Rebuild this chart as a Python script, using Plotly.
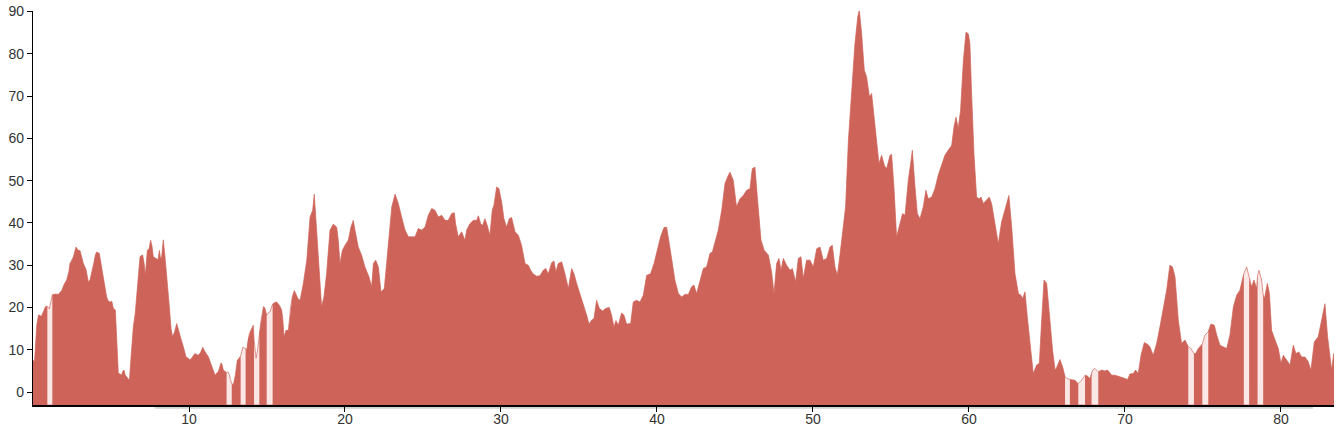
import plotly.graph_objects as go

# ---- data ----
dist_km = [
    0.0, 0.1, 0.24, 0.35, 0.42, 0.46, 0.55, 0.66, 0.8, 0.92, 1.05, 1.15, 1.24, 1.45, 1.62, 1.84, 2.0, 2.16,
    2.3, 2.37, 2.5, 2.59, 2.76, 2.9, 3.01, 3.12, 3.23, 3.4, 3.55, 3.66, 3.76, 3.9, 4.0, 4.08, 4.25, 4.4,
    4.51, 4.62, 4.72, 4.83, 4.94, 5.05, 5.15, 5.28, 5.38, 5.47, 5.58, 5.68, 5.75, 5.83, 5.92, 6.0, 6.1,
    6.18, 6.3, 6.43, 6.55, 6.69, 6.78, 6.86, 6.95, 7.03, 7.12, 7.2, 7.33, 7.45, 7.54, 7.63, 7.71, 7.82,
    7.93, 8.02, 8.1, 8.18, 8.25, 8.35, 8.45, 8.57, 8.66, 8.74, 8.85, 8.95, 9.08, 9.21, 9.32, 9.42, 9.53,
    9.64, 9.72, 9.81, 9.95, 10.06, 10.2, 10.38, 10.5, 10.6, 10.75, 10.88, 11.0, 11.13, 11.25, 11.39, 11.5,
    11.67, 11.78, 11.88, 12.05, 12.12, 12.2, 12.3, 12.41, 12.5, 12.58, 12.66, 12.74, 12.84, 12.97, 13.1,
    13.2, 13.31, 13.45, 13.55, 13.63, 13.7, 13.78, 13.87, 13.95, 14.02, 14.12, 14.17, 14.3, 14.4, 14.51,
    14.6, 14.77, 14.85, 14.98, 15.1, 15.2, 15.36, 15.5, 15.62, 15.8, 15.94, 16.02, 16.09, 16.22, 16.37,
    16.52, 16.62, 16.75, 16.88, 17.0, 17.12, 17.33, 17.55, 17.76, 17.93, 18.03, 18.18, 18.33, 18.5, 18.65,
    18.82, 19.04, 19.25, 19.47, 19.57, 19.68, 19.83, 20.0, 20.21, 20.38, 20.53, 20.64, 20.85, 21.06, 21.28,
    21.54, 21.71, 21.82, 21.97, 22.14, 22.31, 22.52, 22.78, 23.0, 23.21, 23.42, 23.63, 23.85, 24.06, 24.27,
    24.49, 24.7, 24.91, 25.13, 25.34, 25.56, 25.77, 25.98, 26.2, 26.41, 26.62, 26.84, 27.01, 27.09, 27.26,
    27.48, 27.69, 27.8, 28.01, 28.23, 28.44, 28.55, 28.7, 28.82, 28.97, 29.12, 29.29, 29.44, 29.55, 29.72,
    29.87, 30.04, 30.19, 30.36, 30.53, 30.68, 30.9, 31.11, 31.32, 31.54, 31.75, 31.9, 32.07, 32.29, 32.5,
    32.71, 32.88, 33.03, 33.25, 33.4, 33.52, 33.67, 33.89, 34.1, 34.32, 34.53, 34.68, 34.85, 35.06, 35.28,
    35.49, 35.64, 35.81, 35.96, 36.13, 36.3, 36.51, 36.73, 36.94, 37.09, 37.24, 37.37, 37.52, 37.73, 37.88,
    38.05, 38.31, 38.48, 38.69, 38.91, 39.12, 39.34, 39.59, 39.81, 40.02, 40.23, 40.45, 40.62, 40.79, 41.0,
    41.15, 41.37, 41.58, 41.79, 42.01, 42.22, 42.37, 42.54, 42.76, 42.97, 43.18, 43.4, 43.55, 43.72, 43.93,
    44.15, 44.36, 44.53, 44.68, 44.89, 45.1, 45.32, 45.53, 45.75, 45.96, 46.11, 46.28, 46.45, 46.67, 46.88,
    47.14, 47.35, 47.5, 47.67, 47.82, 47.95, 48.1, 48.31, 48.53, 48.68, 48.89, 49.06, 49.23, 49.38, 49.59,
    49.81, 50.02, 50.24, 50.45, 50.66, 50.88, 51.09, 51.24, 51.41, 51.56, 51.73, 51.94, 52.09, 52.27, 52.48,
    52.69, 52.87, 52.97, 53.12, 53.29, 53.44, 53.62, 53.76, 53.91, 54.08, 54.23, 54.4, 54.58, 54.72, 54.94,
    55.04, 55.19, 55.36, 55.53, 55.74, 55.9, 56.11, 56.26, 56.37, 56.54, 56.69, 56.86, 57.07, 57.24, 57.39,
    57.61, 57.82, 58.03, 58.25, 58.46, 58.67, 58.89, 59.04, 59.17, 59.31, 59.46, 59.64, 59.81, 59.96, 60.06,
    60.17, 60.32, 60.49, 60.66, 60.77, 60.92, 61.13, 61.3, 61.45, 61.67, 61.88, 62.09, 62.31, 62.42, 62.56,
    62.74, 62.95, 63.17, 63.33, 63.44, 63.59, 63.74, 63.91, 64.12, 64.34, 64.51, 64.66, 64.81, 64.98, 65.15,
    65.36, 65.52, 65.62, 65.83, 66.0, 66.16, 66.3, 66.47, 66.79, 67.01, 67.22, 67.44, 67.59, 67.76, 67.86,
    67.93, 68.08, 68.29, 68.5, 68.72, 68.89, 69.15, 69.36, 69.68, 70.0, 70.17, 70.32, 70.54, 70.68, 70.85,
    71.03, 71.24, 71.45, 71.6, 71.81, 72.03, 72.24, 72.45, 72.67, 72.88, 73.05, 73.21, 73.42, 73.63, 73.85,
    74.06, 74.23, 74.42, 74.53, 74.7, 74.96, 75.13, 75.34, 75.51, 75.73, 75.88, 76.09, 76.3, 76.52, 76.73,
    76.95, 77.16, 77.37, 77.52, 77.62, 77.8, 77.96, 78.12, 78.27, 78.44, 78.5, 78.59, 78.76, 78.86, 78.94,
    79.13, 79.26, 79.4, 79.62, 79.83, 80.0, 80.15, 80.36, 80.58, 80.79, 80.96, 81.15, 81.32, 81.54, 81.75,
    81.92, 82.14, 82.39, 82.61, 82.82, 82.99, 83.14, 83.25, 83.38, 83.46,
]

value = [
    7.5, 7.3, 15.8, 18.2, 18.2, 18.0, 18.0, 19.0, 20.2, 20.3, 19.7, 21.5, 23.0, 23.2, 23.1, 24.0, 25.5, 26.5,
    28.5, 30.4, 31.2, 32.0, 34.3, 33.5, 33.5, 32.0, 30.4, 29.0, 26.0, 26.6, 28.0, 30.5, 32.5, 33.1, 32.8, 29.5,
    26.5, 24.0, 22.5, 21.5, 21.3, 21.5, 19.8, 19.4, 12.0, 4.4, 4.3, 4.0, 4.9, 5.2, 4.0, 3.6, 3.2,
    2.8, 9.0, 15.4, 18.5, 24.9, 28.5, 32.0, 32.3, 32.4, 30.5, 27.6, 33.5, 34.0, 35.9, 34.5, 32.0, 31.8,
    31.6, 31.3, 33.5, 31.5, 32.0, 36.0, 32.5, 28.0, 24.0, 20.2, 15.0, 13.1, 14.2, 16.2, 14.8, 13.1, 12.0,
    10.7, 9.2, 8.3, 8.0, 7.6, 8.2, 9.1, 8.9, 8.7, 9.4, 10.6, 9.7, 9.1, 8.3, 6.8, 5.8,
    4.0, 4.5, 4.8, 6.9, 6.5, 5.2, 5.0, 4.6, 4.8, 4.2, 2.9, 2.1, 1.7, 4.0, 7.6,
    7.9, 8.6, 10.6, 10.4, 10.3, 9.9, 12.5, 13.9, 14.5, 15.0, 15.8, 12.5, 8.0, 10.0, 13.9,
    16.5, 20.2, 20.0, 18.2, 18.8, 19.0, 20.8, 21.2, 21.3, 20.5, 19.4, 17.0, 13.1, 14.6, 14.6,
    20.2, 22.5, 24.0, 23.0, 22.0, 21.7, 25.7, 31.2, 41.4, 43.0, 46.8, 38.3, 29.6, 20.2, 22.5,
    28.0, 38.3, 39.7, 39.0, 35.9, 30.4, 33.5, 34.7, 35.9, 39.0, 40.6, 38.3, 34.3, 32.4, 29.6,
    27.2, 24.9, 30.4, 31.2, 29.6, 23.7, 24.5, 34.3, 43.8, 46.8, 44.6, 41.4, 38.3, 36.7, 36.7,
    36.7, 38.7, 38.3, 39.0, 41.8, 43.4, 43.0, 41.4, 41.8, 40.6, 40.6, 42.2, 42.4, 39.8, 36.7,
    37.9, 35.9, 38.3, 39.8, 40.6, 40.6, 41.7, 39.8, 39.4, 41.0, 39.4, 37.1, 43.0, 44.2, 48.5,
    48.1, 45.0, 41.0, 39.0, 41.0, 41.3, 37.9, 37.1, 34.7, 30.4, 30.0, 28.8, 27.9, 27.4, 27.5,
    28.8, 29.2, 27.9, 30.6, 31.0, 28.4, 30.4, 30.8, 28.0, 24.5, 29.2, 28.0, 25.7, 23.3, 20.6,
    18.2, 16.1, 17.0, 17.4, 21.7, 19.8, 19.2, 19.8, 20.0, 18.2, 15.4, 16.9, 15.8, 18.7, 18.2,
    16.1, 16.2, 21.3, 21.7, 21.3, 22.9, 27.6, 28.0, 30.4, 33.9, 36.7, 38.9, 39.0, 35.1, 29.6,
    26.5, 23.3, 22.5, 23.1, 23.1, 24.9, 25.3, 23.3, 26.1, 29.2, 29.6, 32.8, 33.1, 35.5, 38.3,
    43.0, 49.3, 50.9, 52.0, 50.1, 43.8, 45.7, 46.5, 47.7, 48.1, 52.8, 53.2, 45.4, 35.9, 33.5,
    32.4, 28.4, 23.3, 30.4, 31.6, 28.8, 31.6, 30.0, 28.8, 29.2, 26.1, 31.6, 32.0, 26.9, 31.2,
    31.2, 29.6, 33.9, 34.3, 31.2, 31.6, 34.3, 34.7, 29.6, 27.6, 32.4, 38.3, 43.8, 59.5, 72.1,
    82.4, 88.7, 90.4, 84.7, 76.1, 74.5, 69.8, 70.6, 65.0, 59.5, 54.0, 56.0, 53.6, 52.8, 56.0,
    56.2, 48.5, 36.7, 39.0, 42.2, 41.8, 50.1, 54.0, 57.2, 48.5, 42.2, 41.0, 43.8, 47.7, 45.7,
    46.1, 48.1, 51.3, 54.0, 56.0, 57.2, 58.3, 62.7, 65.0, 62.3, 66.6, 78.4, 85.1, 84.7, 82.4,
    70.6, 56.4, 46.1, 45.7, 46.1, 44.6, 45.4, 46.1, 44.6, 40.2, 35.1, 40.2, 43.0, 45.0, 46.5,
    39.0, 28.0, 23.3, 22.9, 22.1, 23.7, 17.8, 11.5, 4.4, 6.4, 6.8, 17.0, 26.5, 25.7, 17.8,
    9.9, 5.2, 5.8, 7.7, 6.0, 3.6, 3.2, 3.0, 2.8, 2.0, 2.8, 4.0, 3.8, 3.2, 4.8,
    5.2, 5.6, 4.8, 5.2, 5.0, 5.2, 4.0, 4.0, 3.6, 3.2, 3.0, 4.3, 4.4, 5.2, 4.4,
    8.7, 11.7, 11.3, 10.7, 8.7, 11.5, 15.4, 19.8, 24.1, 30.0, 29.6, 27.2, 17.0, 11.5, 12.3,
    10.7, 10.3, 9.1, 9.1, 10.3, 11.4, 13.5, 14.3, 16.1, 15.8, 13.5, 11.1, 10.7, 10.3, 13.5,
    20.2, 22.9, 24.1, 26.5, 28.0, 29.6, 27.0, 24.9, 26.5, 24.5, 27.5, 28.8, 26.5, 23.0, 22.1,
    25.7, 23.3, 14.6, 12.3, 10.3, 6.8, 8.7, 7.6, 6.4, 11.1, 9.1, 9.5, 8.3, 8.3, 7.2,
    5.2, 11.9, 13.1, 17.0, 20.9, 13.1, 7.6, 5.2, 9.1, 9.3,
]

# stretches with missing readings (start km, end km)
gaps = [
    (0.42, 0.46), (0.92, 1.24), (12.41, 12.74), (13.31, 13.63), (14.17, 14.51), (14.98, 15.36),
    (65.52, 65.62), (66.16, 66.47), (67.01, 67.44), (67.86, 68.29),
    (74.06, 74.42), (74.96, 75.34), (77.62, 77.96), (78.5, 78.86),
]

x_ticks = [10, 20, 30, 40, 50, 60, 70, 80]
y_ticks = [0, 10, 20, 30, 40, 50, 60, 70, 80, 90]

# ---- build ----
Y_MIN, Y_MAX = -3.05, 90.1
X_MIN, X_MAX = 0, 83.4


def in_gap(x):
    return any(a < x < b for a, b in gaps)


def closed_segments(xs, ys, base):
    """Split at None values and close each run down to the baseline."""
    out_x, out_y = [], []
    seg_x, seg_y = [], []

    def flush():
        if seg_x:
            out_x.extend(seg_x + [seg_x[-1], seg_x[0], None])
            out_y.extend(seg_y + [base, base, None])

    for x, y in zip(xs, ys):
        if y is None:
            flush()
            seg_x, seg_y = [], []
        else:
            seg_x.append(x)
            seg_y.append(y)
    flush()
    return out_x, out_y


valid_vals = [None if in_gap(x) else v for x, v in zip(dist_km, value)]

all_x, all_y = closed_segments(dist_km, value, Y_MIN)
red_x, red_y = closed_segments(dist_km, valid_vals, Y_MIN)

RED = "#ce6459"

fig = go.Figure()
fig.add_trace(go.Scatter(
    x=all_x, y=all_y, mode="lines", fill="toself",
    fillcolor="#fbe8e6", line=dict(color="rgba(206,100,89,0.75)", width=0.9),
    hoverinfo="skip", showlegend=False,
))
fig.add_trace(go.Scatter(
    x=red_x, y=red_y, mode="lines", fill="toself",
    fillcolor=RED, line=dict(color=RED, width=0),
    hoverinfo="skip", showlegend=False,
))

fig.add_shape(type="line", xref="x", yref="paper", x0=7.8, x1=82.05, y0=-0.007, y1=-0.007,
              line=dict(color="#d2d2d2", width=2), layer="below")

fig.update_layout(
    width=1336, height=427,
    margin=dict(l=33, r=2, t=11, b=22),
    paper_bgcolor="white", plot_bgcolor="white",
    font=dict(family="Liberation Sans, Arial, sans-serif", size=14, color="#333"),
    xaxis=dict(range=[X_MIN, X_MAX], tickvals=x_ticks, ticks="outside", ticklen=5,
               tickcolor="black", showline=True, linecolor="black", linewidth=1.5,
               showgrid=False, zeroline=False, fixedrange=True, automargin=False,
               ticklabelstandoff=-5),
    yaxis=dict(range=[Y_MIN, Y_MAX], tickvals=y_ticks, ticks="outside", ticklen=5,
               tickcolor="black", showline=True, linecolor="black", linewidth=1.2,
               showgrid=False, zeroline=False, fixedrange=True, automargin=False),
)

fig.write_html("out.html", config={"displayModeBar": False},
               post_script="document.body.style.margin='0';")
